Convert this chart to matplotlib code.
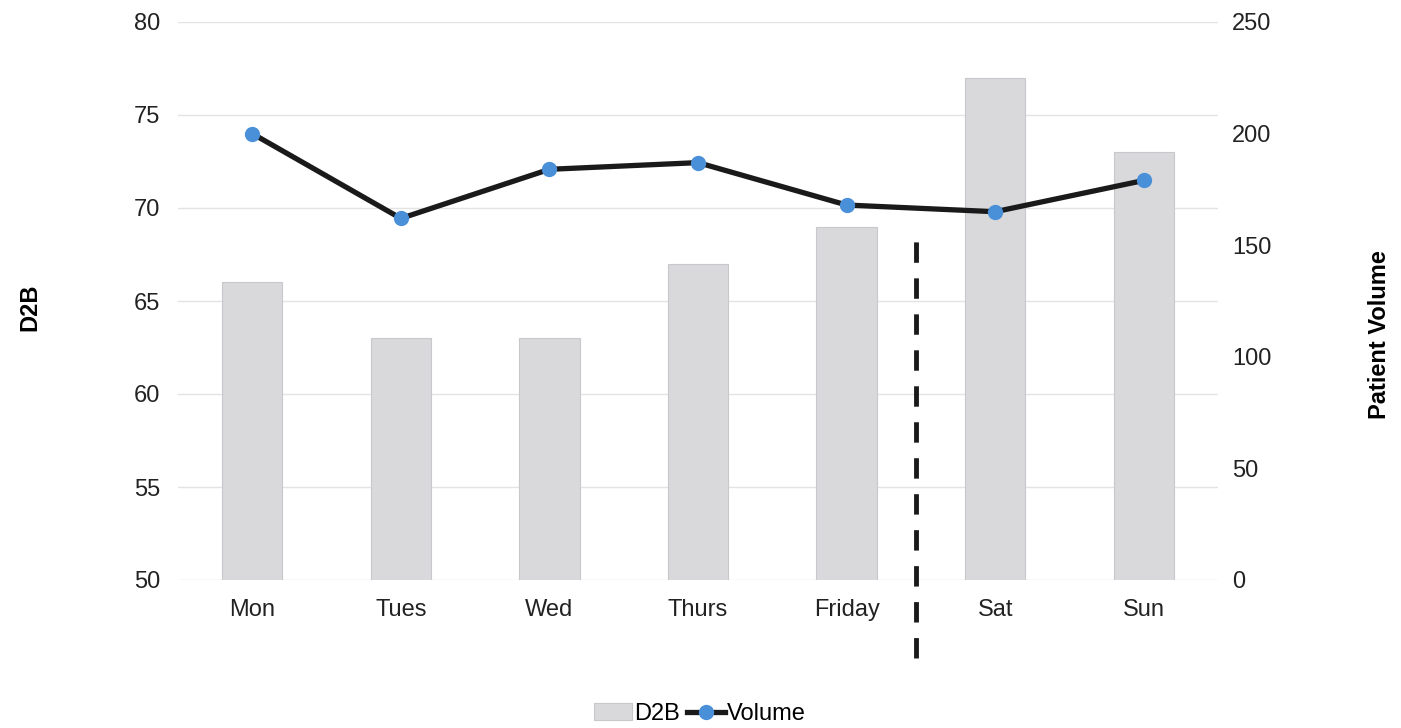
import matplotlib.pyplot as plt
import numpy as np

plt.rcParams['font.family'] = ['Liberation Sans', 'DejaVu Sans']

days = ['Mon', 'Tues', 'Wed', 'Thurs', 'Friday', 'Sat', 'Sun']
d2b = [66, 63, 63, 67, 69, 77, 73]
volume = [200, 162, 184, 187, 168, 165, 179]

x = np.arange(len(days))

fig = plt.figure(figsize=(14.01, 7.28), dpi=100)
ax1 = fig.add_axes([178 / 1401, 1 - 580 / 728, 1040 / 1401, 558 / 728])
ax2 = ax1.twinx()

# bars on left axis
ax1.bar(x, d2b, width=0.405, color='#d9d9dc', edgecolor='#c8c8cc', linewidth=0.8,
        label='D2B', zorder=2)
ax1.set_ylim(50, 80)
ax1.set_yticks(np.arange(50, 81, 5))
ax1.set_xlim(-0.5, 6.5)
ax1.set_xticks(x)
ax1.set_xticklabels(days)
ax1.grid(axis='y', color='#e3e3e3', linewidth=1, zorder=0)
ax1.set_axisbelow(True)

# weekday / weekend divider
ax1.plot([4.47, 4.47], [45.8, 68.8], color='#1a1a1a', linewidth=3.5,
         linestyle=(0, (4.2, 3.2)), clip_on=False, zorder=3)

# volume line on right axis
ax2.plot(x, volume, color='#1a1a1a', linewidth=3.8, marker='o', markersize=10,
         markerfacecolor='#4a90d9', markeredgecolor='#4a90d9', label='Volume', zorder=4)
ax2.set_ylim(0, 250)
ax2.set_yticks(np.arange(0, 251, 50))

for ax in (ax1, ax2):
    for s in ax.spines.values():
        s.set_visible(False)
    ax.tick_params(length=0, labelsize=17, colors='#222222')
ax1.tick_params(axis='y', pad=13)
ax2.tick_params(axis='y', pad=10)
ax1.tick_params(axis='x', pad=14)

fig.text(30 / 1401, 1 - 307 / 728, 'D2B', rotation=90, fontsize=17, fontweight='bold',
         ha='center', va='center')
fig.text(1380 / 1401, 1 - 335 / 728, 'Patient Volume', rotation=90, fontsize=17,
         fontweight='bold', ha='center', va='center')

h1, l1 = ax1.get_legend_handles_labels()
h2, l2 = ax2.get_legend_handles_labels()
fig.legend(h1 + h2, l1 + l2, loc='center', bbox_to_anchor=(700 / 1401, 1 - 714 / 728),
           ncol=2, frameon=False, fontsize=17, handlelength=1.6, handletextpad=0.1,
           columnspacing=0.3)

fig.savefig('out.png', dpi=100)
